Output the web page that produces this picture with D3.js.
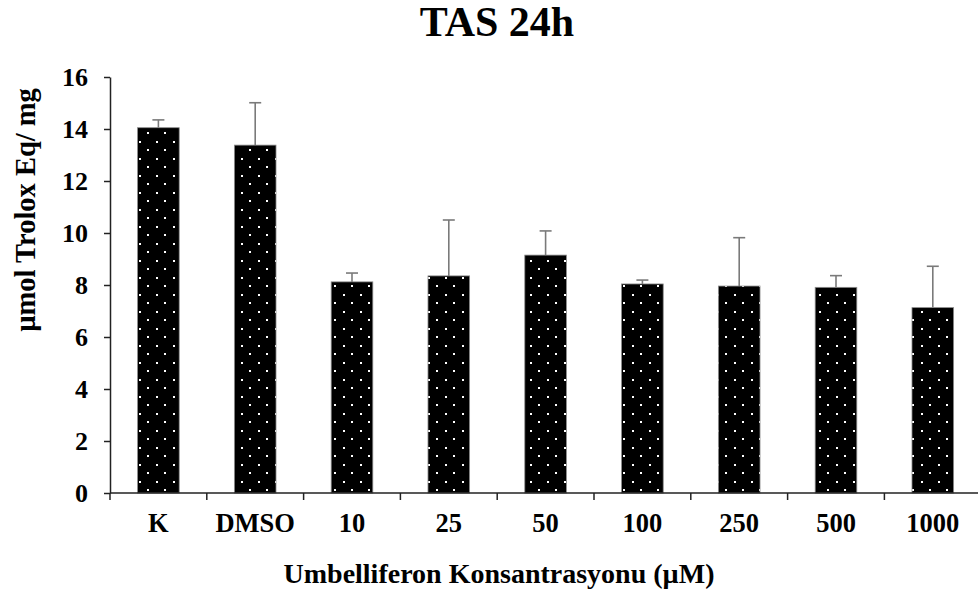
<!DOCTYPE html>
<html>
<head>
<meta charset="utf-8">
<script src="https://cdn.jsdelivr.net/npm/d3@7"></script>
<style>
  body { margin: 0; background: #fff; }
  text { font-family: "Liberation Serif", "Times New Roman", serif; font-weight: bold; }
</style>
</head>
<body>
<div id="chart"></div>
<script>
const categories = ["K", "DMSO", "10", "25", "50", "100", "250", "500", "1000"];
const means = [14.05, 13.38, 8.12, 8.35, 9.15, 8.04, 7.96, 7.91, 7.13];
const errors = [0.30, 1.63, 0.34, 2.15, 0.93, 0.15, 1.86, 0.45, 1.59];
const yTicks = [0, 2, 4, 6, 8, 10, 12, 14, 16];

const width = 978, height = 596;
const x0 = 110, slot = 96.8;
const barFrac = 0.43;

let svg = d3.select("#chart").append("svg")
  .attr("width", width)
  .attr("height", height);

// dotted fill, like the office dotted pattern
let defs = svg.append("defs");
let pat = defs.append("pattern")
  .attr("id", "dots")
  .attr("patternUnits", "userSpaceOnUse")
  .attr("width", 17)
  .attr("height", 17)
  .attr("x", 0)
  .attr("y", 0);
pat.append("rect").attr("width", 17).attr("height", 17).attr("fill", "#000");
pat.append("rect").attr("x", 3).attr("y", 5).attr("width", 2).attr("height", 2).attr("fill", "#fff");
pat.append("rect").attr("x", 11).attr("y", 13).attr("width", 2).attr("height", 2).attr("fill", "#fff");

let xScale = d3.scaleBand()
  .domain(categories)
  .range([x0, x0 + slot * categories.length])
  .padding(0);
let yScale = d3.scaleLinear()
  .domain([0, 16])
  .range([493, 77]);

// bars
let bw = xScale.bandwidth() * barFrac;
svg.selectAll("rect.bar")
  .data(means)
  .enter()
  .append("rect")
  .attr("class", "bar")
  .attr("x", (d, i) => xScale(categories[i]) + (xScale.bandwidth() - bw) / 2)
  .attr("y", d => yScale(d))
  .attr("width", bw)
  .attr("height", d => yScale(0) - yScale(d))
  .attr("fill", "url(#dots)")
  .attr("stroke", "#8c8c8c")
  .attr("stroke-width", 0.8);

// error bars (upper only)
let cx = i => xScale(categories[i]) + xScale.bandwidth() / 2;
let eb = svg.append("g").attr("stroke", "#7a7a7a").attr("stroke-width", 1.6);
means.forEach((m, i) => {
  eb.append("line")
    .attr("x1", cx(i)).attr("x2", cx(i))
    .attr("y1", yScale(m)).attr("y2", yScale(m + errors[i]));
  eb.append("line")
    .attr("x1", cx(i) - 6).attr("x2", cx(i) + 6)
    .attr("y1", yScale(m + errors[i])).attr("y2", yScale(m + errors[i]));
});

// y axis
let yAxis = svg.append("g")
  .attr("transform", "translate(" + x0 + ",0)")
  .call(d3.axisLeft(yScale).tickValues(yTicks).tickSize(6).tickPadding(16).tickSizeOuter(0));
yAxis.select(".domain").attr("stroke", "#222").attr("stroke-width", 1.5);
yAxis.selectAll(".tick line").attr("stroke", "#222").attr("stroke-width", 1.5);
yAxis.selectAll(".tick text")
  .style("font-family", "Liberation Serif")
  .style("font-weight", "bold")
  .style("font-size", "26px")
  .attr("fill", "#000")
  .attr("dy", "0.34em");

// x axis: line plus ticks at slot boundaries
let xAxis = svg.append("g").attr("transform", "translate(0," + yScale(0) + ")");
xAxis.append("line")
  .attr("x1", x0).attr("x2", x0 + slot * categories.length)
  .attr("stroke", "#222").attr("stroke-width", 1.5);
d3.range(categories.length + 1).forEach(i => {
  xAxis.append("line")
    .attr("x1", x0 + i * slot).attr("x2", x0 + i * slot)
    .attr("y1", 0).attr("y2", 7)
    .attr("stroke", "#222").attr("stroke-width", 1.5);
});
xAxis.selectAll("text.cat")
  .data(categories)
  .enter()
  .append("text")
  .attr("class", "cat")
  .attr("x", (d, i) => cx(i))
  .attr("y", 39)
  .attr("text-anchor", "middle")
  .style("font-size", "26.5px")
  .text(d => d);

// titles
svg.append("text")
  .attr("x", 497)
  .attr("y", 36)
  .attr("text-anchor", "middle")
  .style("font-size", "42px")
  .text("TAS 24h");

svg.append("text")
  .attr("x", 499)
  .attr("y", 583)
  .attr("text-anchor", "middle")
  .style("font-size", "28px")
  .text("Umbelliferon Konsantrasyonu (µM)");

svg.append("text")
  .attr("transform", "translate(35,210) rotate(-90)")
  .attr("text-anchor", "middle")
  .style("font-size", "28.5px")
  .text("µmol Trolox Eq/ mg");
</script>
</body>
</html>
